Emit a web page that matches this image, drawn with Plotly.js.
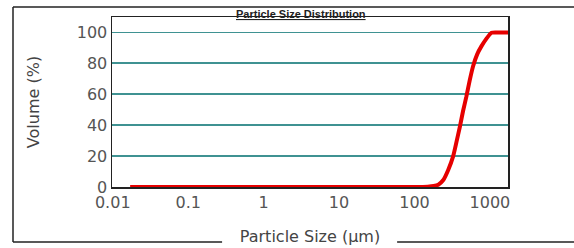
<!DOCTYPE html>
<html>
<head>
<meta charset="utf-8">
<script src="https://cdn.plot.ly/plotly-3.0.1.min.js"></script>
<style>html,body{margin:0;padding:0;background:#fff;}#chart{width:574px;height:248px;}</style>
</head>
<body>
<div id="chart"></div>
<script>
// Particle size (µm) and cumulative volume (%)
const particleSize = [0.017, 0.1, 1, 10, 100, 150, 180, 207, 241, 280, 326, 360, 400, 440, 488, 540, 597, 680, 770, 900, 1050, 1250, 1740];
const volumePct    = [0,     0,   0, 0,  0,   0.2, 0.6, 1.5, 4.5, 11,  20,  29,  39,  49,  58.6, 69, 78,  86,  91,  96,  99.8, 100,  100];
const xTickVals = [0.01, 0.1, 1, 10, 100, 1000];
const xTickText = ['0.01', '0.1', '1', '10', '100', '1000'];
const yTickVals = [0, 20, 40, 60, 80, 100];

const tickFont = {family: 'DejaVu Sans', size: 16, color: '#555'};
const frame = {color: '#222', width: 1.5};

Plotly.newPlot('chart', [{
  x: particleSize, y: volumePct, type: 'scatter', mode: 'lines',
  line: {color: '#e60000', width: 4, shape: 'spline', smoothing: 0.6},
  hoverinfo: 'skip'
}], {
  width: 574, height: 248,
  margin: {l: 112, r: 66, t: 17, b: 61},
  paper_bgcolor: '#fff', plot_bgcolor: '#fff',
  showlegend: false,
  xaxis: {
    type: 'log', range: [-2.01, 3.24],
    tickvals: xTickVals, ticktext: xTickText,
    tickfont: tickFont, ticks: '', showgrid: false, zeroline: false,
    showline: true, linecolor: '#222', linewidth: 1.5, mirror: true,
    automargin: false,
    title: {text: 'Particle Size (µm)', font: {family: 'DejaVu Sans', size: 16, color: '#444'}, standoff: 20}
  },
  yaxis: {
    range: [0, 110], tickvals: yTickVals,
    tickfont: tickFont, ticks: '', showgrid: true, gridcolor: '#3f9292', gridwidth: 1.8,
    zeroline: false, showline: true, linecolor: '#222', linewidth: 1.5, mirror: true,
    automargin: false,
    title: {text: 'Volume (%)', font: {family: 'DejaVu Sans', size: 16, color: '#444'}, standoff: 33}
  },
  annotations: [{
    text: '<b><u>Particle Size Distribution</u></b>', xref: 'paper', yref: 'paper',
    x: 0.477, y: 1.0, xanchor: 'center', yanchor: 'middle', yshift: 3,
    showarrow: false, font: {family: 'Liberation Sans', size: 11, color: '#222'}
  }],
  shapes: [
    {type: 'line', xref: 'paper', yref: 'paper', x0: -0.25, x1: -0.25, y0: -0.3235, y1: 1.059, line: frame},
    {type: 'line', xref: 'paper', yref: 'paper', x0: -0.25, x1: 1.2, y0: 1.059, y1: 1.059, line: frame},
    {type: 'line', xref: 'paper', yref: 'paper', x0: -0.25, x1: 0.278, y0: -0.3235, y1: -0.3235, line: frame},
    {type: 'line', xref: 'paper', yref: 'paper', x0: 0.72, x1: 1.2, y0: -0.3235, y1: -0.3235, line: frame}
  ]
}, {displayModeBar: false, staticPlot: true});
</script>
</body>
</html>
